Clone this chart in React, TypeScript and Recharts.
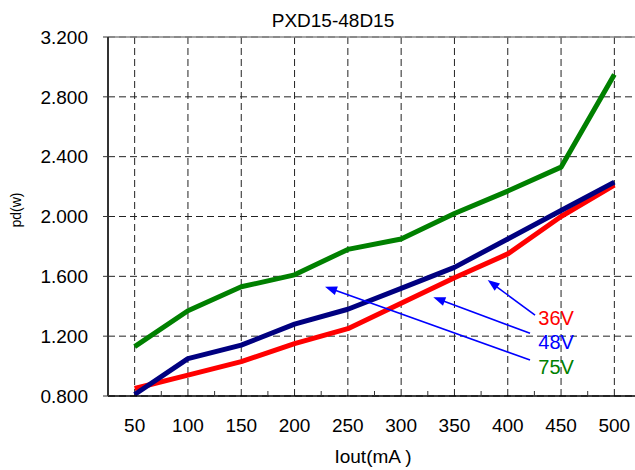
import React from 'react';
import { LineChart, Line, XAxis, YAxis, CartesianGrid, ReferenceLine, ReferenceDot } from 'recharts';

const FONT = '"Liberation Sans", Arial, Helvetica, sans-serif';

const iout = [50, 100, 150, 200, 250, 300, 350, 400, 450, 500];
const v36 = [0.85, 0.94, 1.03, 1.15, 1.25, 1.42, 1.59, 1.75, 2.0, 2.21];
const v48 = [0.81, 1.05, 1.14, 1.28, 1.38, 1.52, 1.66, 1.85, 2.04, 2.23];
const v75 = [1.13, 1.37, 1.53, 1.61, 1.78, 1.85, 2.02, 2.17, 2.33, 2.95];

const xMinorTicks = [75, 125, 175, 225, 275, 325, 375, 425, 475];
const xDomain = [25, 525];
const yTicks = [0.8, 1.2, 1.6, 2.0, 2.4, 2.8, 3.2];

const seriesKeys = ['v36', 'v48', 'v75'];
const seriesColors = ['#ff0000', '#000080', '#008000'];

// annotations (data coordinates)
const annoLabels = ['36V', '48V', '75V'];
const annoColors = ['#ff0000', '#0000ff', '#008000'];
const annoLabelX = [428.7, 428.7, 428.7];
const annoLabelY = [1.275, 1.114, 0.947];
const arrowTailX = [425.6, 420.9, 420.9];
const arrowTailY = [1.34, 1.219, 1.041];
const arrowTipX = [381.2, 330.2, 228.6];
const arrowTipY = [1.575, 1.46, 1.531];

const title = 'PXD15-48D15';
const xLabel = 'Iout(mA )';
const yLabel = 'pd(w)';

const data = iout.map((x, i) => ({ x, v36: v36[i], v48: v48[i], v75: v75[i] }));
const allXTicks = [...iout, ...xMinorTicks].sort((a, b) => a - b);

const XTick = (props: any) => {
  const { x, y, payload } = props;
  const v = payload.value;
  if (iout.includes(v)) {
    return (
      <text x={x} y={y + 36} textAnchor="middle" fontSize={19} fontFamily={FONT} fill="#000">
        {v}
      </text>
    );
  }
  return <line x1={x} x2={x} y1={y - 5} y2={y} stroke="#333" strokeWidth={1} />;
};

const arrowShape = (p: any) => {
  const { x1, y1, x2, y2 } = p;
  const dx = x2 - x1;
  const dy = y2 - y1;
  const len = Math.sqrt(dx * dx + dy * dy) || 1;
  const ux = dx / len;
  const uy = dy / len;
  const hl = 12;
  const hw = 4.5;
  const bx = x2 - ux * hl;
  const by = y2 - uy * hl;
  const pts = `${x2},${y2} ${bx - uy * hw},${by + ux * hw} ${bx + uy * hw},${by - ux * hw}`;
  return (
    <g>
      <line x1={x1} y1={y1} x2={bx + ux * 2} y2={by + uy * 2} stroke="#0000ff" strokeWidth={1.6} />
      <polygon points={pts} fill="#0000ff" />
    </g>
  );
};

export default function App() {
  return (
    <div
      style={{
        position: 'fixed',
        left: 0,
        top: 0,
        width: 635,
        height: 470,
        overflow: 'hidden',
        background: '#fff',
      }}
    >
      <LineChart width={646} height={470} data={data} margin={{ top: 37, right: 5, bottom: 0, left: 0 }}>
        <CartesianGrid vertical={false} stroke="#222" strokeDasharray="7 4" strokeWidth={1} />
        {iout.map((v) => (
          <ReferenceLine key={'vg' + v} x={v} stroke="#222" strokeDasharray="7 4" strokeWidth={1} />
        ))}
        <ReferenceLine y={3.2} stroke="#888" strokeWidth={1.5} />
        <ReferenceLine x={525} stroke="#888" strokeWidth={1.5} />
        <XAxis
          dataKey="x"
          type="number"
          domain={xDomain}
          ticks={allXTicks}
          interval={0}
          height={74}
          tickLine={false}
          tickSize={0}
          tickMargin={0}
          tick={<XTick />}
          axisLine={{ stroke: '#000', strokeWidth: 1.5 }}
        />
        <YAxis
          type="number"
          domain={[0.8, 3.2]}
          ticks={yTicks}
          interval={0}
          width={108}
          tickSize={5}
          tickMargin={15}
          stroke="#333"
          axisLine={{ stroke: '#333', strokeWidth: 2 }}
          tickLine={{ stroke: '#333', strokeWidth: 1 }}
          tick={{ fill: '#000', fontSize: 19, fontFamily: FONT }}
          tickFormatter={(v: number) => v.toFixed(3)}
        />
        {seriesKeys.map((k, i) => (
          <Line
            key={k}
            dataKey={k}
            type="linear"
            stroke={seriesColors[i]}
            strokeWidth={5}
            dot={false}
            activeDot={false}
            isAnimationActive={false}
            strokeLinejoin="round"
          />
        ))}
        {annoLabels.map((lab, i) => (
          <ReferenceLine
            key={'ar' + lab}
            segment={[
              { x: arrowTailX[i], y: arrowTailY[i] },
              { x: arrowTipX[i], y: arrowTipY[i] },
            ]}
            ifOverflow="visible"
            shape={arrowShape}
          />
        ))}
        {annoLabels.map((lab, i) => (
          <ReferenceDot
            key={'lb' + lab}
            x={annoLabelX[i]}
            y={annoLabelY[i]}
            r={0}
            ifOverflow="visible"
            shape={(p: any) => (
              <text x={p.cx} y={p.cy} fontSize={20} fontFamily={FONT} fill={annoColors[i]} textAnchor="start">
                {lab}
              </text>
            )}
          />
        ))}
      </LineChart>
      <svg
        width={635}
        height={470}
        style={{ position: 'absolute', left: 0, top: 0, pointerEvents: 'none' }}
      >
        <text x={333} y={27} textAnchor="middle" fontSize={19} fontFamily={FONT} fill="#000">
          {title}
        </text>
        <text x={373} y={463} textAnchor="middle" fontSize={19} fontFamily={FONT} fill="#000">
          {xLabel}
        </text>
        <text
          x={15.5}
          y={210}
          textAnchor="middle"
          dominantBaseline="central"
          fontSize={14}
          fontFamily={FONT}
          fill="#000"
          transform="rotate(-90 15.5 210)"
        >
          {yLabel}
        </text>
      </svg>
    </div>
  );
}
